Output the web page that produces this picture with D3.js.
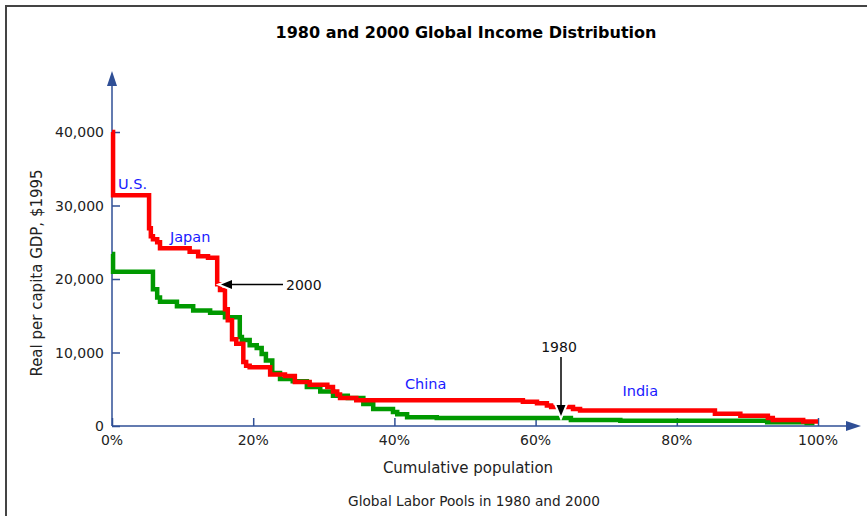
<!DOCTYPE html>
<html><head><meta charset="utf-8">
<script src="https://cdn.jsdelivr.net/npm/d3@7"></script>
<style>
html,body{margin:0;padding:0;background:#fff;}
svg{display:block;font-family:"DejaVu Sans",Verdana,sans-serif;}
</style></head>
<body><svg id="c" width="867" height="516"></svg>
<script>
// ---- data ----
const title = "1980 and 2000 Global Income Distribution";
const xLabel = "Cumulative population";
const yLabel = "Real per capita GDP, $1995";
const footer = "Global Labor Pools in 1980 and 2000";
const xTicks = [0, 20, 40, 60, 80, 100];
const yTicks = [0, 10000, 20000, 30000, 40000];

// 2000 series: step starts (cumulative population %, GDP per capita)
const x2000 = [0, 0.15, 5.25, 5.5, 5.8, 6.4, 6.8, 11.0, 12.2, 13.6, 14.9, 15.3, 16.0, 16.4, 17.0, 17.6, 18.6, 19.0, 19.5, 22.4, 24.5, 25.9, 28.0, 30.5, 31.3, 31.9, 32.3, 34.6, 58.2, 60.2, 61.6, 62.2, 65.3, 66.3, 85.4, 89.0, 92.9, 93.6, 97.9, 100];
const y2000 = [40000, 31400, 26900, 25800, 25400, 25000, 24200, 23700, 23100, 22900, 19300, 18500, 15900, 14400, 11800, 11200, 8700, 8200, 8000, 7000, 6800, 6000, 5600, 5300, 4700, 4300, 3800, 3500, 3300, 3100, 2800, 2600, 2300, 2100, 1650, 1400, 1100, 800, 600, 600];

// 1980 series
const x1980 = [0, 0.15, 5.8, 6.4, 6.8, 9.2, 11.5, 13.9, 16.0, 18.1, 18.4, 19.5, 20.5, 21.2, 21.8, 22.7, 23.8, 25.6, 27.6, 29.5, 31.3, 33.4, 35.6, 37.0, 39.8, 40.4, 41.8, 46.0, 64.2, 65.0, 72.0, 92.8, 98.4, 99.5];
const y1980 = [23400, 21000, 18600, 17500, 16900, 16300, 15700, 15400, 14800, 12100, 11700, 11000, 10600, 9800, 8900, 7200, 6400, 6100, 5300, 4700, 4100, 3800, 3000, 2300, 1900, 1600, 1200, 1100, 1100, 800, 700, 500, 400, 400];

const countryLabels = [
  {name: "U.S.", x: 0.85, y: 32300},
  {name: "Japan", x: 8.2, y: 25100},
  {name: "China", x: 41.5, y: 5000},
  {name: "India", x: 72.3, y: 4100}
];

// ---- layout ----
const svg = d3.select("#c");
const x = d3.scaleLinear().domain([0, 100]).range([112, 818]);
const y = d3.scaleLinear().domain([0, 40000]).range([426, 132]);
const axisColor = "#2f4f96";

// frame
svg.append("path").attr("d", "M6,520 L6,6 L870,6").attr("fill", "none")
  .attr("stroke", "#444").attr("stroke-width", 2);

// title
svg.append("text").attr("x", 466).attr("y", 38).attr("text-anchor", "middle")
  .attr("font-weight", "bold").attr("font-size", 16).attr("fill", "#000").text(title);

// axes lines with arrows
svg.append("line").attr("x1", x(0)).attr("x2", 850).attr("y1", y(0)).attr("y2", y(0))
  .attr("stroke", axisColor).attr("stroke-width", 1.5);
svg.append("path").attr("d", `M846,${y(0)-5} L861,${y(0)} L846,${y(0)+5} Z`).attr("fill", axisColor);
svg.append("line").attr("x1", x(0)).attr("x2", x(0)).attr("y1", y(0)).attr("y2", 82)
  .attr("stroke", axisColor).attr("stroke-width", 1.5);
svg.append("path").attr("d", `M${x(0)-5},86 L${x(0)},71 L${x(0)+5},86 Z`).attr("fill", axisColor);

// x axis ticks via d3 axis
const xAxis = d3.axisTop(x).tickValues(xTicks).tickSize(8).tickFormat("");
const gx = svg.append("g").attr("transform", `translate(0,${y(0)})`).call(xAxis);
gx.select(".domain").remove();
gx.selectAll("line").attr("stroke", axisColor).attr("stroke-width", 1.5);
svg.append("g").selectAll("text").data(xTicks).join("text")
  .attr("x", d => x(d)).attr("y", 445).attr("text-anchor", "middle")
  .attr("font-size", 14).attr("fill", "#222").text(d => d + "%");

const yAxis = d3.axisRight(y).tickValues(yTicks).tickSize(8).tickFormat("");
const gy = svg.append("g").attr("transform", `translate(${x(0)},0)`).call(yAxis);
gy.select(".domain").remove();
gy.selectAll("line").attr("stroke", axisColor).attr("stroke-width", 1.5);
svg.append("g").selectAll("text").data(yTicks).join("text")
  .attr("x", 104).attr("y", d => y(d) + 5).attr("text-anchor", "end")
  .attr("font-size", 14).attr("fill", "#222").text(d => d3.format(",")(d));

// axis titles
svg.append("text").attr("x", 468).attr("y", 473).attr("text-anchor", "middle")
  .attr("font-size", 15).attr("fill", "#222").text(xLabel);
svg.append("text").attr("transform", "translate(42,273) rotate(-90)").attr("text-anchor", "middle")
  .attr("font-size", 15).attr("fill", "#222").text(yLabel);
svg.append("text").attr("x", 474).attr("y", 506).attr("text-anchor", "middle")
  .attr("font-size", 13.7).attr("fill", "#222").text(footer);

// series
const line = d3.line().x(d => x(d[0])).y(d => y(d[1])).curve(d3.curveStepAfter);
const d1980 = x1980.map((v, i) => [v, y1980[i]]);
const d2000 = x2000.map((v, i) => [v, y2000[i]]);
svg.append("path").datum(d1980).attr("d", line).attr("fill", "none")
  .attr("stroke", "#009900").attr("stroke-width", 4.5);
svg.append("path").datum(d2000).attr("d", line).attr("fill", "none")
  .attr("stroke", "#ff0000").attr("stroke-width", 4.5);

// country labels
svg.append("g").selectAll("text").data(countryLabels).join("text")
  .attr("x", d => x(d.x)).attr("y", d => y(d.y)).attr("font-size", 14.5)
  .attr("fill", "#1a1aff").text(d => d.name);

// annotations with white halo
function arrow(x1, y1, x2, y2) {
  const ang = Math.atan2(y2 - y1, x2 - x1);
  const L = 11, W = 4.5;
  const bx = x2 - L * Math.cos(ang), by = y2 - L * Math.sin(ang);
  const px = -Math.sin(ang) * W, py = Math.cos(ang) * W;
  const head = `M${x2},${y2} L${bx + px},${by + py} L${bx - px},${by - py} Z`;
  svg.append("line").attr("x1", x1).attr("y1", y1).attr("x2", bx).attr("y2", by)
    .attr("stroke", "#fff").attr("stroke-width", 5);
  svg.append("path").attr("d", head).attr("fill", "#fff").attr("stroke", "#fff").attr("stroke-width", 4);
  svg.append("line").attr("x1", x1).attr("y1", y1).attr("x2", bx).attr("y2", by)
    .attr("stroke", "#000").attr("stroke-width", 1.5);
  svg.append("path").attr("d", head).attr("fill", "#000");
}
arrow(283, 284.5, 221, 284.5);
svg.append("text").attr("x", 286).attr("y", 290).attr("font-size", 14).attr("fill", "#111").text("2000");
arrow(561, 357, 561, 416);
svg.append("text").attr("x", 559).attr("y", 352).attr("text-anchor", "middle").attr("font-size", 14).attr("fill", "#111").text("1980");
</script></body></html>
